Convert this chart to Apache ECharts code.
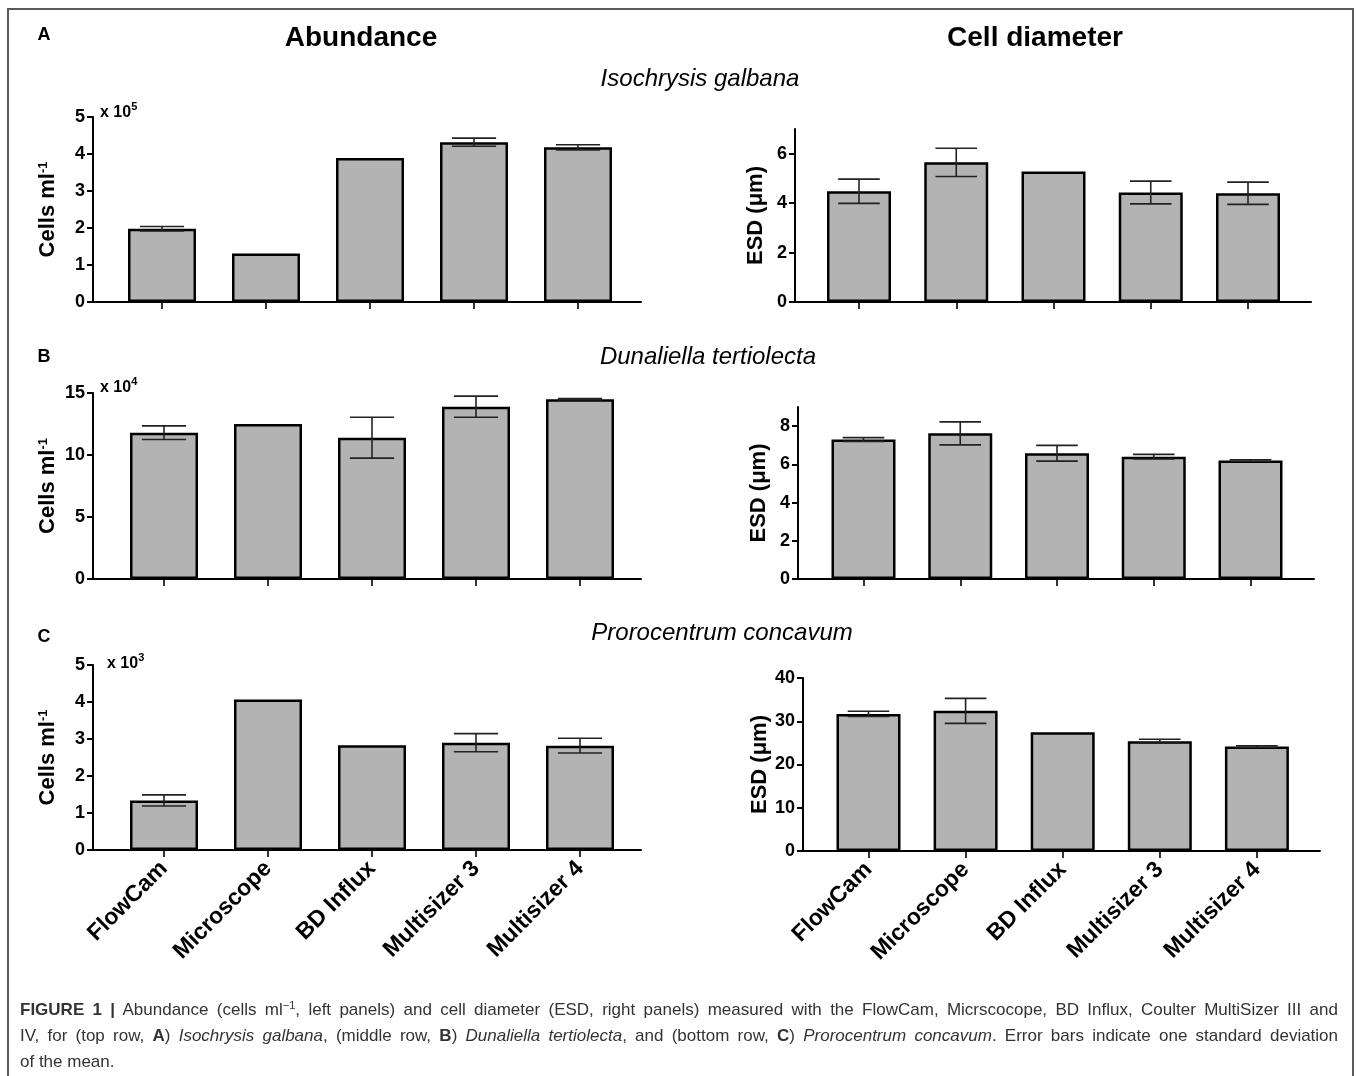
<!DOCTYPE html>
<html><head><meta charset="utf-8">
<script src="https://cdn.jsdelivr.net/npm/echarts@6/dist/echarts.min.js"></script>
<style>
html,body{margin:0;padding:0;background:#fff;}
#wrap{position:relative;width:1357px;height:1076px;overflow:hidden;background:#fff;}
#chart{position:absolute;left:0;top:0;width:1357px;height:1076px;}
#frame{position:absolute;left:7px;top:8px;width:1347px;height:1120px;border:2px solid #5a5a5a;box-sizing:border-box;pointer-events:none;}
#caption{position:absolute;left:20px;top:997px;width:1318px;font-family:'Liberation Sans',Arial,sans-serif;font-size:17px;line-height:26px;color:#333;}
.ln{text-align:justify;text-align-last:justify;}
.last{text-align:left;}
sup{font-size:11px;line-height:0;vertical-align:6px;}
</style></head>
<body>
<div id="wrap">
<div id="chart"></div>
<div id="frame"></div>
<div id="caption">
<div class="ln"><b>FIGURE 1 |</b> Abundance (cells ml<sup>−1</sup>, left panels) and cell diameter (ESD, right panels) measured with the FlowCam, Micrscocope, BD Influx, Coulter MultiSizer III and</div>
<div class="ln">IV, for (top row, <b>A</b>) <i>Isochrysis galbana</i>, (middle row, <b>B</b>) <i>Dunaliella tertiolecta</i>, and (bottom row, <b>C</b>) <i>Prorocentrum concavum</i>. Error bars indicate one standard deviation</div>
<div class="last">of the mean.</div>
</div>
</div>
<script>
// ---------- data ----------
const categories = ['FlowCam', 'Microscope', 'BD Influx', 'Multisizer 3', 'Multisizer 4'];

const abundIso   = [1.98, 1.31, 3.89, 4.32, 4.18];   // x 10^5 cells/ml
const abundIsoSd = [0.06, 0, 0, 0.11, 0.07];
const diamIso    = [4.48, 5.65, 5.28, 4.43, 4.40];   // µm
const diamIsoSd  = [0.49, 0.57, 0, 0.46, 0.45];

const abundDun   = [11.8, 12.5, 11.4, 13.9, 14.5];   // x 10^4 cells/ml
const abundDunSd = [0.55, 0, 1.65, 0.85, 0.05];
const diamDun    = [7.30, 7.62, 6.58, 6.40, 6.20];
const diamDunSd  = [0.10, 0.60, 0.41, 0.12, 0.04];

const abundPro   = [1.34, 4.07, 2.83, 2.90, 2.82];   // x 10^3 cells/ml
const abundProSd = [0.15, 0, 0, 0.245, 0.20];
const diamPro    = [31.7, 32.4, 27.45, 25.4, 24.15];
const diamProSd  = [0.6, 2.9, 0, 0.45, 0.2];

const ticksAbIso = [0, 1, 2, 3, 4, 5];
const ticksDiIso = [0, 2, 4, 6];
const ticksAbDun = [0, 5, 10, 15];
const ticksDiDun = [0, 2, 4, 6, 8];
const ticksAbPro = [0, 1, 2, 3, 4, 5];
const ticksDiPro = [0, 10, 20, 30, 40];

const maxAbIso = 5, maxDiIso = 7, maxAbDun = 15, maxDiDun = 9, maxAbPro = 5, maxDiPro = 40;
const multIso = '5', multDun = '4', multPro = '3';

// ---------- layout ----------
const FONT = 'Liberation Sans';
const cellsName = 'Cells ml{s|-1}';
const esdName = 'ESD (μm)';

const panels = [
  {vals: abundIso, sd: abundIsoSd, max: maxAbIso, ticks: ticksAbIso, ax: 93, end: 641, top: 117, zero: 302, c0: 162, step: 104, bw: 68, name: cellsName, gap: 34, labels: false},
  {vals: diamIso, sd: diamIsoSd, max: maxDiIso, ticks: ticksDiIso, ax: 795, end: 1311, top: 129, zero: 302, c0: 859, step: 97.25, bw: 64, name: esdName, gap: 28, labels: false},
  {vals: abundDun, sd: abundDunSd, max: maxAbDun, ticks: ticksAbDun, ax: 93, end: 641, top: 393, zero: 579, c0: 164, step: 104, bw: 68, name: cellsName, gap: 34, labels: false},
  {vals: diamDun, sd: diamDunSd, max: maxDiDun, ticks: ticksDiDun, ax: 798, end: 1314, top: 407, zero: 579, c0: 863.5, step: 96.75, bw: 64, name: esdName, gap: 28, labels: false},
  {vals: abundPro, sd: abundProSd, max: maxAbPro, ticks: ticksAbPro, ax: 93, end: 641, top: 665, zero: 850, c0: 164, step: 104, bw: 68, name: cellsName, gap: 34, labels: true},
  {vals: diamPro, sd: diamProSd, max: maxDiPro, ticks: ticksDiPro, ax: 803, end: 1320, top: 678, zero: 851, c0: 868.5, step: 97.1, bw: 64, name: esdName, gap: 32, labels: true}
];

function errRender(capW) {
  return function (params, api) {
    const s = api.value(2);
    if (!s) return null;
    const x = api.value(0), m = api.value(1);
    const p1 = api.coord([x, m + s]);
    const p2 = api.coord([x, m - s]);
    const st = {stroke: '#222', lineWidth: 1.6};
    const h = capW / 2;
    return {type: 'group', children: [
      {type: 'line', shape: {x1: p1[0], y1: p1[1], x2: p2[0], y2: p2[1]}, style: st},
      {type: 'line', shape: {x1: p1[0] - h, y1: p1[1], x2: p1[0] + h, y2: p1[1]}, style: st},
      {type: 'line', shape: {x1: p2[0] - h, y1: p2[1], x2: p2[0] + h, y2: p2[1]}, style: st}
    ]};
  };
}

const grid = [], xAxis = [], yAxis = [], series = [];
panels.forEach((p, i) => {
  const gFull = 2 * i, gBand = 2 * i + 1;
  grid.push({left: p.ax, top: p.top, width: p.end - p.ax, height: p.zero - p.top});
  grid.push({left: p.c0 - p.step / 2, top: p.top, width: p.step * 5, height: p.zero - p.top});

  xAxis.push({gridIndex: gFull, type: 'category', data: categories,
    axisLine: {show: true, lineStyle: {color: '#000', width: 2}},
    axisTick: {show: false}, axisLabel: {show: false}, splitLine: {show: false}});
  xAxis.push({gridIndex: gBand, type: 'category', data: categories,
    axisLine: {show: false},
    axisTick: {show: true, alignWithLabel: true, interval: 0, length: 7, lineStyle: {color: '#000', width: 1.6}},
    axisLabel: {show: p.labels, interval: 0, rotate: 45, margin: 15, fontSize: 23, fontWeight: 'bold', color: '#000', fontFamily: FONT},
    splitLine: {show: false}});

  yAxis.push({gridIndex: gFull, type: 'value', min: 0, max: p.max,
    axisLine: {show: true, lineStyle: {color: '#000', width: 2}},
    axisTick: {show: true, length: 6, lineStyle: {color: '#000', width: 2}, customValues: p.ticks},
    axisLabel: {customValues: p.ticks, fontSize: 18, fontWeight: 'bold', color: '#000', fontFamily: FONT, margin: 8},
    splitLine: {show: false},
    name: p.name, nameLocation: 'middle', nameRotate: 90, nameGap: p.gap,
    nameTextStyle: {fontSize: 22, fontWeight: 'bold', color: '#000', fontFamily: FONT,
      rich: {s: {fontSize: 13, fontWeight: 'bold', fontFamily: FONT, color: '#000', verticalAlign: 'top', lineHeight: 12}}}});
  yAxis.push({gridIndex: gBand, type: 'value', min: 0, max: p.max, show: false});

  series.push({type: 'bar', xAxisIndex: gBand, yAxisIndex: gBand, data: p.vals, barWidth: p.bw,
    itemStyle: {color: '#b3b3b3', borderColor: '#000', borderWidth: 2.5}, silent: true, z: 2});
  series.push({type: 'custom', xAxisIndex: gBand, yAxisIndex: gBand,
    data: p.vals.map((v, j) => [j, v, p.sd[j]]), renderItem: errRender(p.bw * 0.65), silent: true, z: 4});
});

function txt(x, y, text, font, extra) {
  return Object.assign({type: 'text', x: x, y: y, silent: true,
    style: Object.assign({text: text, font: font, fill: '#000', align: 'center', verticalAlign: 'middle',
      textAlign: 'center', textVerticalAlign: 'middle'}, extra || {})});
}
const supRich = {
  b: {fontSize: 16, fontWeight: 'bold', fontFamily: FONT, fill: '#000', color: '#000', verticalAlign: 'bottom', lineHeight: 20},
  s: {fontSize: 11, fontWeight: 'bold', fontFamily: FONT, fill: '#000', color: '#000', verticalAlign: 'top', lineHeight: 11}
};
function mult(x, y, e) {
  return {type: 'text', x: x, y: y, silent: true,
    style: {text: '{b|x 10}{s|' + e + '}', rich: supRich, align: 'left', verticalAlign: 'middle',
      textAlign: 'left', textVerticalAlign: 'middle', fill: '#000'}};
}

const graphic = [
  txt(44, 35, 'A', 'bold 18px ' + FONT),
  txt(44, 357, 'B', 'bold 18px ' + FONT),
  txt(44, 637, 'C', 'bold 18px ' + FONT),
  txt(361, 38, 'Abundance', 'bold 28px ' + FONT),
  txt(1035, 38, 'Cell diameter', 'bold 28px ' + FONT),
  txt(700, 79, 'Isochrysis galbana', 'italic 24px ' + FONT),
  txt(708, 357, 'Dunaliella tertiolecta', 'italic 24px ' + FONT),
  txt(722, 633, 'Prorocentrum concavum', 'italic 24px ' + FONT),
  mult(100, 111, multIso),
  mult(100, 386, multDun),
  mult(107, 662, multPro)
];

const chart = echarts.init(document.getElementById('chart'), null, {renderer: 'canvas'});
chart.setOption({
  animation: false,
  backgroundColor: 'transparent',
  textStyle: {fontFamily: FONT},
  grid: grid, xAxis: xAxis, yAxis: yAxis, series: series, graphic: graphic
});
</script>
</body></html>
